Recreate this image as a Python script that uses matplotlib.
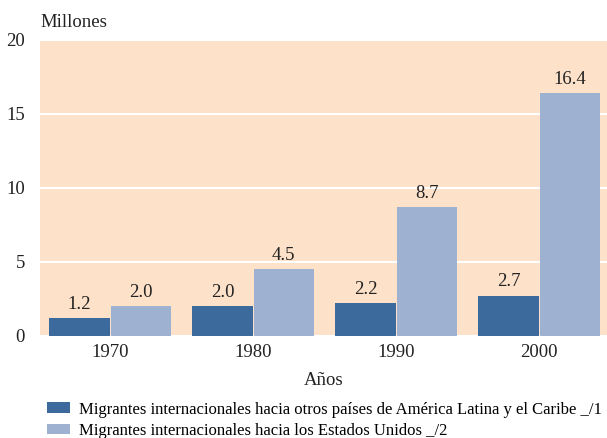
import numpy as np
import matplotlib.pyplot as plt

anios = ["1970", "1980", "1990", "2000"]
america_latina = [1.2, 2.0, 2.2, 2.7]
estados_unidos = [2.0, 4.5, 8.7, 16.4]
etiquetas = [
    "Migrantes internacionales hacia otros países de América Latina y el Caribe _/1",
    "Migrantes internacionales hacia los Estados Unidos _/2",
]

plt.rcParams["font.family"] = ["Liberation Serif", "DejaVu Serif"]

fig = plt.figure(figsize=(6.07, 4.38), dpi=100)
ax = fig.add_axes([0.066, 0.233, 0.934, 0.676])
ax.set_facecolor("#fde1c9")

x = np.arange(len(anios))
ancho = 0.42
b1 = ax.bar(x - ancho / 2 - 0.004, america_latina, ancho, color="#3d6a9c", label=etiquetas[0], zorder=3)
b2 = ax.bar(x + ancho / 2 + 0.004, estados_unidos, ancho, color="#9eb1d1", label=etiquetas[1], zorder=3)

for barras in (b1, b2):
    for b in barras:
        h = b.get_height()
        ax.annotate(f"{h:.1f}", (b.get_x() + b.get_width() / 2, h), xytext=(0, 4),
                    textcoords="offset points", ha="center", va="bottom", fontsize=13.5, color="#222222")

ax.set_ylim(0, 20)
ax.set_xlim(-0.49, 3.475)
ax.set_yticks([0, 5, 10, 15, 20])
ax.set_xticks(x)
ax.set_xticklabels(anios)
ax.yaxis.grid(True, color="white", linewidth=1.5, zorder=1)
ax.set_axisbelow(True)
for s in ax.spines.values():
    s.set_visible(False)
ax.tick_params(length=0, labelsize=13.5, colors="#222222", pad=6)
ax.tick_params(axis="y", pad=11)
ax.set_xlabel("Años", fontsize=13.5, color="#222222", labelpad=8)
fig.text(0.066, 0.938, "Millones", fontsize=13.5, color="#222222", va="baseline")

fig.legend(loc="upper left", bbox_to_anchor=(0.077, 0.083), borderaxespad=0, borderpad=0,
           frameon=False, fontsize=12,
           handlelength=1.4, handleheight=0.6, handletextpad=0.55, labelspacing=0.32)

fig.savefig("out.png", dpi=100)
